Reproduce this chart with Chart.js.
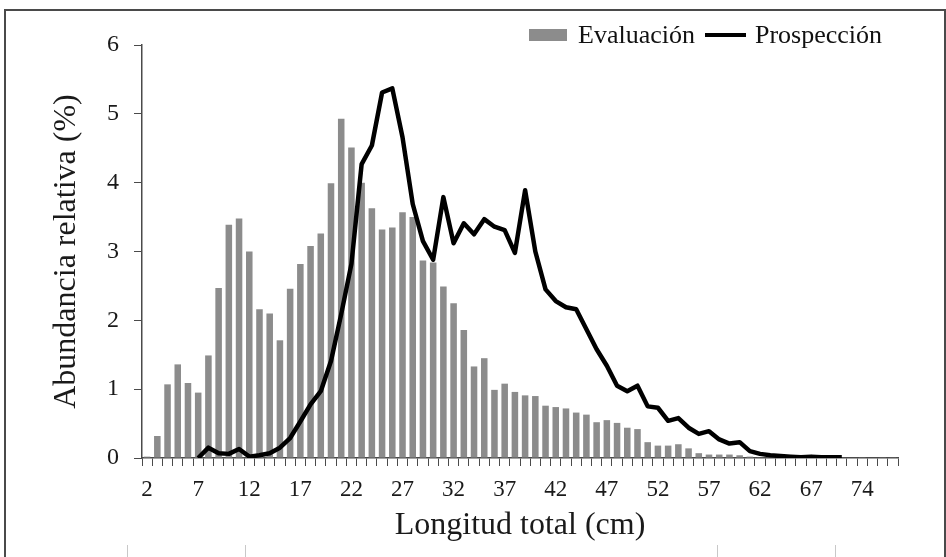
<!DOCTYPE html>
<html lang="es">
<head>
<meta charset="UTF-8">
<title>Abundancia relativa por longitud total</title>
<script src="https://cdn.jsdelivr.net/npm/chart.js"></script>
<style>
    body {
        margin: 0;
        background: #fff;
        font-family: "Liberation Serif", serif;
    }
    #wrap {
        position: relative;
        width: 946px;
        height: 557px;
        overflow: hidden;
    }
    #frame {
        position: absolute;
        left: 4px;
        top: 9px;
        width: 938px;
        height: 600px;
        border: 2px solid #4a4a4a;
    }
    #chartBox {
        position: absolute;
        left: 0;
        top: 0;
        width: 946px;
        height: 557px;
    }
    .legend {
        position: absolute;
        top: 20px;
        left: 529px;
        display: flex;
        align-items: center;
        font-size: 26px;
        color: #111;
    }
    .legend .box {
        width: 38px;
        height: 12px;
        background: #8c8c8c;
        margin-right: 11px;
    }
    .legend .ln {
        width: 41px;
        height: 4px;
        background: #000;
        margin: 0 9px 0 10px;
    }
    .mark {
        position: absolute;
        width: 1px;
        height: 12px;
        top: 545px;
        background: #c8c8c8;
    }
</style>
</head>
<body>
<div id="wrap">
    <div id="frame"></div>
    <div id="chartBox"><canvas id="lenChart" width="946" height="557"></canvas></div>
    <div class="legend">
        <span class="box"></span><span>Evaluación</span>
        <span class="ln"></span><span>Prospección</span>
    </div>
    <div class="mark" style="left:127px"></div>
    <div class="mark" style="left:245px"></div>
    <div class="mark" style="left:717px"></div>
    <div class="mark" style="left:835px"></div>
</div>

<script>
    // clases de talla (cm)
    const tallas = [2, 3, 4, 5, 6, 7, 8, 9, 10, 11, 12, 13, 14, 15, 16, 17, 18, 19, 20, 21,
        22, 23, 24, 25, 26, 27, 28, 29, 30, 31, 32, 33, 34, 35, 36, 37, 38, 39, 40, 41,
        42, 43, 44, 45, 46, 47, 48, 49, 50, 51, 52, 53, 54, 55, 56, 57, 58, 59, 60, 61,
        62, 63, 64, 65, 66, 67, 68, 69, 70, 71, 74, 75, 76, 77];

    // Evaluación (barras, %)
    const evaluacion = [0.02, 0.32, 1.07, 1.36, 1.09, 0.95, 1.49, 2.47, 3.39, 3.48,
        3.00, 2.16, 2.10, 1.71, 2.46, 2.82, 3.08, 3.26, 3.99, 4.93,
        4.51, 4.00, 3.63, 3.32, 3.35, 3.57, 3.50, 2.87, 2.84, 2.49,
        2.25, 1.86, 1.33, 1.45, 0.99, 1.08, 0.96, 0.91, 0.90, 0.76,
        0.74, 0.72, 0.66, 0.63, 0.52, 0.55, 0.51, 0.44, 0.42, 0.23,
        0.18, 0.18, 0.20, 0.14, 0.07, 0.05, 0.05, 0.05, 0.04, 0.02,
        0.01, 0.01, 0.01, 0, 0, 0.01, 0, 0.01, 0, 0, 0.01, 0, 0.01, 0.01];

    // Prospección (línea, %)
    const prospeccion = [null, null, null, null, null, 0.00, 0.15, 0.07, 0.06, 0.13,
        0.02, 0.04, 0.07, 0.15, 0.29, 0.53, 0.78, 0.97, 1.41, 2.09,
        2.82, 4.27, 4.54, 5.31, 5.37, 4.66, 3.69, 3.15, 2.88, 3.79,
        3.12, 3.41, 3.25, 3.47, 3.36, 3.31, 2.98, 3.89, 3.00, 2.45,
        2.28, 2.19, 2.16, 1.87, 1.58, 1.34, 1.05, 0.97, 1.05, 0.75,
        0.73, 0.54, 0.58, 0.44, 0.35, 0.39, 0.27, 0.21, 0.23, 0.10,
        0.06, 0.04, 0.03, 0.02, 0.01, 0.02, 0.01, 0.01, 0.01, null,
        null, null, null, null];

    const yTicks = [0, 1, 2, 3, 4, 5, 6];

    const axisColor = '#4a4a4a';
    const textColor = '#1a1a1a';
    const serif = 'Liberation Serif';

    const ctx = document.getElementById('lenChart').getContext('2d');
    const chart = new Chart(ctx, {
        type: 'bar',
        data: {
            labels: tallas,
            datasets: [
                {
                    type: 'line',
                    label: 'Prospección',
                    data: prospeccion,
                    borderColor: '#000',
                    borderWidth: 4.5,
                    pointRadius: 0,
                    tension: 0,
                    borderJoinStyle: 'round',
                    order: 0
                },
                {
                    label: 'Evaluación',
                    data: evaluacion,
                    backgroundColor: '#8c8c8c',
                    barPercentage: 0.64,
                    categoryPercentage: 1,
                    order: 1
                }
            ]
        },
        options: {
            responsive: false,
            animation: false,
            layout: { padding: { top: 45, right: 48, left: 0, bottom: 0 } },
            plugins: {
                legend: { display: false },
                tooltip: { enabled: false }
            },
            scales: {
                x: {
                    offset: true,
                    grid: {
                        offset: true,
                        drawOnChartArea: false,
                        drawTicks: true,
                        tickLength: 8,
                        color: axisColor
                    },
                    border: { display: true, color: axisColor, width: 1.5 },
                    ticks: {
                        autoSkip: false,
                        maxRotation: 0,
                        padding: 10,
                        color: textColor,
                        font: { family: serif, size: 23 },
                        callback: (v, i) => (i % 5 === 0 ? String(tallas[i]) : '')
                    },
                    title: {
                        display: true,
                        text: 'Longitud total (cm)',
                        color: textColor,
                        font: { family: serif, size: 32 },
                        padding: { top: 0, bottom: 12 }
                    },
                    afterFit: (scale) => { scale.height = 99; }
                },
                y: {
                    min: 0,
                    max: 6,
                    afterBuildTicks: (scale) => { scale.ticks = yTicks.map(v => ({ value: v })); },
                    grid: {
                        drawOnChartArea: false,
                        drawTicks: true,
                        tickLength: 8,
                        color: axisColor
                    },
                    border: { display: true, color: axisColor, width: 1.5 },
                    ticks: {
                        padding: 15,
                        color: textColor,
                        font: { family: serif, size: 24 }
                    },
                    title: {
                        display: true,
                        text: 'Abundancia relativa (%)',
                        color: textColor,
                        font: { family: serif, size: 32 },
                        padding: { top: 47, bottom: 0 }
                    },
                    afterFit: (scale) => { scale.width = 142; }
                }
            }
        }
    });
</script>
</body>
</html>
